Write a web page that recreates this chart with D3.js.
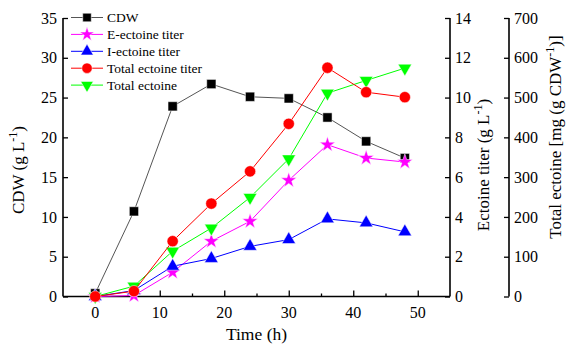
<!DOCTYPE html>
<html>
<head>
<meta charset="utf-8">
<script src="https://cdn.jsdelivr.net/npm/d3@7"></script>
<style>
  body { margin: 0; background: #fff; }
  svg text { font-family: "Liberation Serif", "Times New Roman", serif; fill: #000; }
</style>
</head>
<body>
<svg width="567" height="347" font-family="Liberation Serif"></svg>
<script>
// sampling times (h)
const time = [0, 6, 12, 18, 24, 30, 36, 42, 48];
// left axis: CDW (g/L)
const cdw = [0.4, 10.7, 23.9, 26.7, 25.1, 24.9, 22.5, 19.5, 17.4];
// first right axis: ectoine titer (g/L)
const eEctoine = [0, 0.05, 1.22, 2.78, 3.78, 5.84, 7.63, 6.96, 6.76];
const iEctoine = [0, 0.3, 1.52, 1.91, 2.52, 2.86, 3.9, 3.7, 3.25];
const totalTiter = [0, 0.27, 2.78, 4.67, 6.29, 8.68, 11.5, 10.27, 10.02];
// second right axis: total ectoine mg/(g CDW)
const totalEctoine = [0, 26, 114, 172, 249, 346, 511, 543, 574];

const xTicks = [0, 10, 20, 30, 40, 50];
const cdwTicks = [0, 5, 10, 15, 20, 25, 30, 35];
const titerTicks = [0, 2, 4, 6, 8, 10, 12, 14];
const contentTicks = [0, 100, 200, 300, 400, 500, 600, 700];

const svg = d3.select("svg");
const plotL = 63, plotR = 450, plotT = 18, plotB = 296.5;
const axis2X = 509;

const x = d3.scaleLinear().domain([-5, 55]).range([plotL, plotR]);
const yCdw = d3.scaleLinear().domain([0, 35]).range([plotB, plotT]);
const yTiter = d3.scaleLinear().domain([0, 14]).range([plotB, plotT]);
const yContent = d3.scaleLinear().domain([0, 700]).range([plotB, plotT]);

// x axis, ticks pointing in
const gx = svg.append("g").attr("transform", `translate(0,${plotB})`);
gx.call(d3.axisTop(x).tickValues(xTicks).tickSize(6).tickFormat(""));
gx.append("g").call(d3.axisTop(x).tickValues([5, 15, 25, 35, 45]).tickSize(3).tickFormat(""));
gx.selectAll("path").remove();
gx.selectAll("line").attr("stroke", "#000").attr("stroke-width", 1.3);
gx.append("line").attr("x1", plotL).attr("x2", plotR).attr("stroke", "#000").attr("stroke-width", 1.6);
gx.selectAll(".xl").data(xTicks).enter().append("text")
  .attr("x", d => x(d)).attr("y", 21)
  .attr("text-anchor", "middle").style("font-size", "16px").text(d => d);

svg.append("text").attr("x", x(25)).attr("y", 340).attr("text-anchor", "middle")
  .style("font-size", "17.5px").text("Time (h)");

function yAxis(scale, ticks, xpos, labelSide) {
  const g = svg.append("g").attr("transform", `translate(${xpos},0)`);
  const ax = labelSide === "left" ? d3.axisRight(scale) : d3.axisLeft(scale);
  g.call(ax.tickValues(ticks).tickSize(5).tickFormat(""));
  g.selectAll("path").remove();
  g.selectAll("line").attr("stroke", "#000").attr("stroke-width", 1.3);
  g.append("line").attr("y1", plotT).attr("y2", plotB).attr("stroke", "#000").attr("stroke-width", 1.6);
  g.selectAll(".lbl").data(ticks).enter().append("text")
    .attr("x", labelSide === "left" ? -6 : 5)
    .attr("y", d => scale(d)).attr("dy", "0.35em")
    .attr("text-anchor", labelSide === "left" ? "end" : "start")
    .style("font-size", "16px").text(d => d);
}
yAxis(yCdw, cdwTicks, plotL, "left");
yAxis(yTiter, titerTicks, plotR, "right");
yAxis(yContent, contentTicks, axis2X, "right");

function vLabel(cx, cy, parts) {
  const t = svg.append("text")
    .attr("transform", `translate(${cx},${cy}) rotate(-90)`)
    .attr("text-anchor", "middle").style("font-size", "17px");
  parts.forEach(p => {
    const s = t.append("tspan").text(p[0]);
    if (p[1]) s.attr("baseline-shift", "super").style("font-size", "12px");
  });
}
vLabel(24, 170, [["CDW (g L"], ["-1", true], [")"]]);
vLabel(489, 165, [["Ectoine titer (g L"], ["-1", true], [")"]]);
vLabel(561, 137, [["Total ectoine [mg (g CDW"], ["-1", true], [")]"]]);

const series = [
  { name: "CDW", values: cdw, y: yCdw, line: "#555", fill: "#000", shape: d3.symbolSquare, size: 85, rot: 0 },
  { name: "E-ectoine titer", values: eEctoine, y: yTiter, line: "#ff00ff", fill: "#ff00ff", shape: d3.symbolStar, size: 75, rot: 0 },
  { name: "I-ectoine titer", values: iEctoine, y: yTiter, line: "#0000ff", fill: "#0000ff", shape: d3.symbolTriangle, size: 80, rot: 0 },
  { name: "Total ectoine", values: totalEctoine, y: yContent, line: "#00ff00", fill: "#00ff00", shape: d3.symbolTriangle, size: 80, rot: 180 },
  { name: "Total ectoine titer", values: totalTiter, y: yTiter, line: "#ff0000", fill: "#ff0000", shape: d3.symbolCircle, size: 100, rot: 0 }
];

series.forEach(s => {
  const pts = time.map((t, i) => [x(t), s.y(s.values[i])]);
  svg.append("path").attr("d", d3.line()(pts))
    .attr("fill", "none").attr("stroke", s.line).attr("stroke-width", 1);
  svg.append("g").selectAll("path").data(pts).enter().append("path")
    .attr("d", d3.symbol().type(s.shape).size(s.size))
    .attr("transform", d => `translate(${d[0]},${d[1]}) rotate(${s.rot})`)
    .attr("fill", s.fill).attr("stroke", "#fff").attr("stroke-width", 0.5);
});

// legend
const legendOrder = ["CDW", "E-ectoine titer", "I-ectoine titer", "Total ectoine titer", "Total ectoine"];
const lg = svg.append("g");
legendOrder.forEach((name, i) => {
  const s = series.find(d => d.name === name);
  const ly = 17.5 + i * 16.9;
  lg.append("line").attr("x1", 71).attr("x2", 103).attr("y1", ly).attr("y2", ly)
    .attr("stroke", s.line).attr("stroke-width", 1);
  lg.append("path").attr("d", d3.symbol().type(s.shape).size(s.size * 0.85))
    .attr("transform", `translate(87,${ly}) rotate(${s.rot})`)
    .attr("fill", s.fill).attr("stroke", "#fff").attr("stroke-width", 0.5);
  lg.append("text").attr("x", 107).attr("y", ly).attr("dy", "0.35em")
    .style("font-size", "13.5px").text(name);
});
</script>
</body>
</html>
